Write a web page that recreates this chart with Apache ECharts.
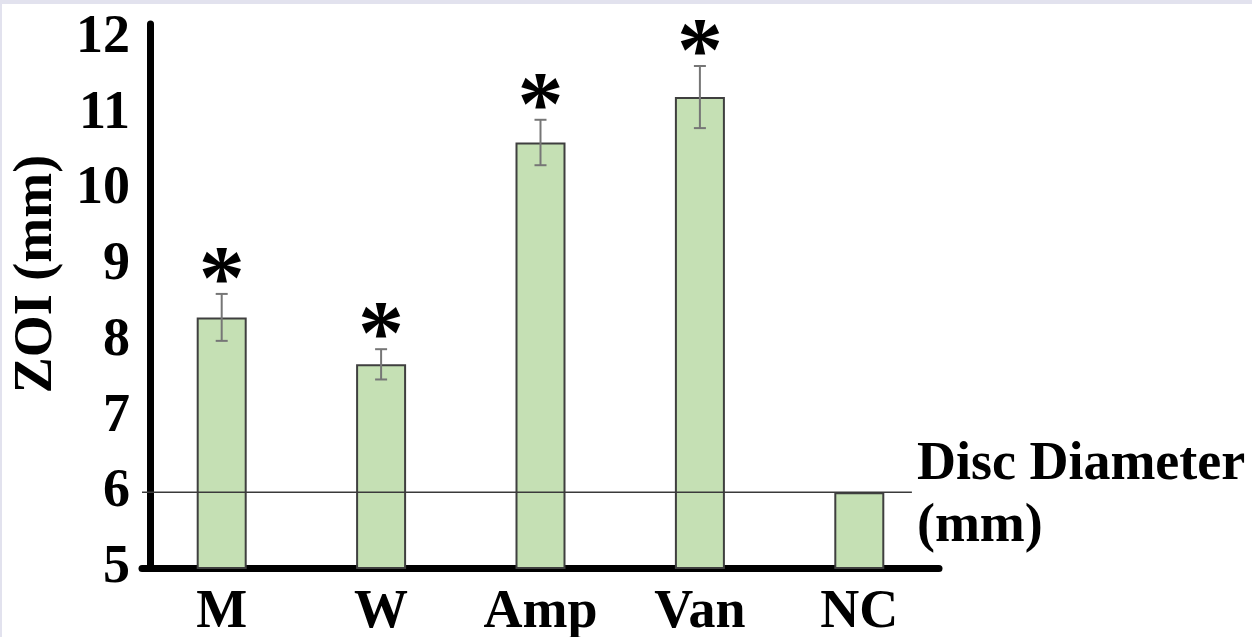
<!DOCTYPE html>
<html>
<head>
<meta charset="utf-8">
<script src="https://cdn.jsdelivr.net/npm/echarts@6/dist/echarts.min.js"></script>
<style>
  html, body { margin: 0; padding: 0; background: #e2e2ee; }
  #chart { position: absolute; left: 2px; top: 4px; width: 1250px; height: 633px; background: #fff; }
</style>
</head>
<body>
<div id="chart"></div>
<script>
// values
const groups = ['M', 'W', 'Amp', 'Van', 'NC'];
const zoi = [8.31, 7.69, 10.62, 11.22, 6.0];
const zoiErr = [0.31, 0.2, 0.3, 0.41, 0];
const signif = ['*', '*', '*', '*', ''];
const discDiameter = 6;
const discLineX = [-0.5, 4.33]; // extent of the disc diameter line, in category units

const font = "'Liberation Serif', 'Times New Roman', serif";
const chart = echarts.init(document.getElementById('chart'));

const errData = groups.map((g, i) => [i, zoi[i], zoiErr[i], signif[i]]);

const option = {
  animation: false,
  grid: { left: 140, top: 20, width: 797, bottom: 69, outerBoundsMode: 'none' },
  xAxis: [
    {
      type: 'category',
      data: groups,
      axisLine: { show: true, lineStyle: { color: '#000', width: 7, cap: 'round' } },
      axisTick: { show: false },
      axisLabel: { color: '#000', fontSize: 54, fontWeight: 'bold', fontFamily: font, margin: 18 }
    },
    { type: 'value', min: -0.5, max: 4.5, show: false }
  ],
  yAxis: {
    type: 'value',
    min: 5,
    max: 12.185,
    interval: 1,
    offset: -8,
    name: 'ZOI (mm)',
    nameLocation: 'middle',
    nameGap: 86,
    nameTextStyle: { color: '#000', fontSize: 54, fontWeight: 'bold', fontFamily: font, padding: [0, 0, 0, 44] },
    axisLine: { show: true, onZero: false, lineStyle: { color: '#000', width: 7, cap: 'round' } },
    axisTick: { show: false },
    splitLine: { show: false },
    axisLabel: {
      color: '#000', fontSize: 54, fontWeight: 'bold', fontFamily: font, margin: 20,
      formatter: v => Number.isInteger(v) ? String(v) : ''
    }
  },
  series: [
    {
      type: 'bar',
      data: zoi,
      barWidth: 50,
      itemStyle: { color: '#c5e0b4', borderColor: '#3f3f3f', borderWidth: 2 }
    },
    {
      type: 'custom',
      data: errData,
      z: 5,
      renderItem: function (params, api) {
        const i = api.value(0), v = api.value(1), e = api.value(2);
        const top = api.coord([i, v + e]);
        const bot = api.coord([i, v - e]);
        const children = [];
        const st = { stroke: '#767676', lineWidth: 2 };
        if (e > 0) {
          children.push({ type: 'line', shape: { x1: top[0], y1: top[1], x2: bot[0], y2: bot[1] }, style: st });
          children.push({ type: 'line', shape: { x1: top[0] - 6, y1: top[1], x2: top[0] + 6, y2: top[1] }, style: st });
          children.push({ type: 'line', shape: { x1: bot[0] - 6, y1: bot[1], x2: bot[0] + 6, y2: bot[1] }, style: st });
        }
        const s = api.value(3);
        if (s) {
          children.push({
            type: 'text',
            style: {
              text: s, x: top[0], y: top[1] - 10,
              align: 'center', verticalAlign: 'middle',
              fill: '#000', fontSize: 92, fontWeight: 'bold', fontFamily: font
            }
          });
        }
        return { type: 'group', children: children };
      }
    },
    {
      type: 'line',
      xAxisIndex: 1,
      data: discLineX.map(x => [x, discDiameter]),
      symbol: 'none',
      z: 4,
      lineStyle: { color: '#3a3a3a', width: 1.5 },
      endLabel: {
        show: true,
        formatter: 'Disc Diameter\n(mm)',
        distance: 5,
        offset: [0, 4],
        color: '#000', fontSize: 54, fontWeight: 'bold', fontFamily: font, lineHeight: 62,
        align: 'left', verticalAlign: 'middle'
      }
    }
  ]
};

chart.setOption(option);
</script>
</body>
</html>
